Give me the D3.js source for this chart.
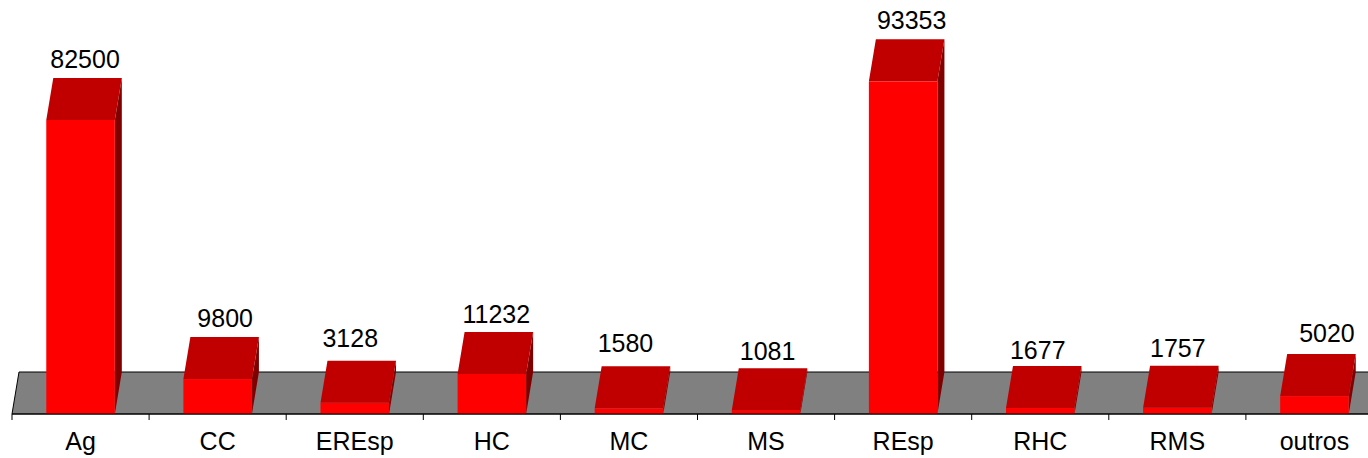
<!DOCTYPE html>
<html>
<head>
<meta charset="utf-8">
<script src="https://cdn.jsdelivr.net/npm/d3@7"></script>
<style>
  html, body { margin: 0; padding: 0; background: #fff; overflow: hidden; }
  svg { display: block; font-family: "Liberation Sans", Arial, sans-serif; }
</style>
</head>
<body>
<svg id="chart" width="1368" height="458"></svg>
<script>
const categories = ["Ag", "CC", "EREsp", "HC", "MC", "MS", "REsp", "RHC", "RMS", "outros"];
const values = [82500, 9800, 3128, 11232, 1580, 1081, 93353, 1677, 1757, 5020];

const W = 1368, H = 458;
const baseY = 414;
const depth = { dx: 7, dy: -42 };

// value labels in the original are not placed quite evenly; small nudges (px)
const labelDx = [1, 4, -8, 1, -7, -2, 5, -6, -3, 9];
const labelGap = [10, 10, 14, 9, 14, 8, 10, 7, 9, 12];

const COL_FRONT = "#ff0000";
const COL_TOP = "#c00000";
const COL_SIDE = "#800000";
const COL_FLOOR = "#808080";

const svg = d3.select("#chart");

const x = d3.scaleBand()
  .domain(categories)
  .range([12, 12 + 1371])
  .paddingInner(0.5)
  .paddingOuter(0.25);

// 82500 -> 294px tall
const y = d3.scaleLinear()
  .domain([0, 100000])
  .range([baseY, baseY - 294 * 100000 / 82500]);

const poly = (pts) => pts.map((p) => p.join(",")).join(" ");

// floor
const x0 = x.range()[0], x1 = x.range()[1];
svg.append("polygon")
  .attr("points", poly([
    [x0, baseY], [x1, baseY],
    [x1 + depth.dx, baseY + depth.dy], [x0 + depth.dx, baseY + depth.dy]
  ]))
  .attr("fill", COL_FLOOR)
  .attr("stroke", "#000")
  .attr("stroke-width", 1);

// bars
const bars = svg.append("g").selectAll("g.bar")
  .data(categories.map((c, i) => ({ c, v: values[i], i })))
  .join("g")
  .attr("class", "bar");

bars.each(function (d) {
  const g = d3.select(this);
  const l = x(d.c), r = l + x.bandwidth();
  const t = y(d.v);
  g.append("polygon")
    .attr("points", poly([
      [r, baseY], [r, t], [r + depth.dx, t + depth.dy], [r + depth.dx, baseY + depth.dy]
    ]))
    .attr("fill", COL_SIDE);
  g.append("rect")
    .attr("x", l).attr("y", t)
    .attr("width", x.bandwidth()).attr("height", baseY - t)
    .attr("fill", COL_FRONT);
  g.append("polygon")
    .attr("points", poly([
      [l, t], [r, t], [r + depth.dx, t + depth.dy], [l + depth.dx, t + depth.dy]
    ]))
    .attr("fill", COL_TOP);
  g.append("text")
    .attr("x", (l + r) / 2 + depth.dx / 2 + labelDx[d.i])
    .attr("y", t + depth.dy - labelGap[d.i])
    .attr("text-anchor", "middle")
    .attr("font-size", 25)
    .attr("fill", "#000")
    .text(d.v);
});

// axis
const gx = svg.append("g").attr("transform", `translate(0,${baseY})`);
gx.append("line")
  .attr("x1", x0).attr("x2", x1)
  .attr("stroke", "#000");
gx.selectAll("line.tick")
  .data(d3.range(categories.length + 1))
  .join("line")
  .attr("class", "tick")
  .attr("x1", (i) => x0 + i * x.step())
  .attr("x2", (i) => x0 + i * x.step())
  .attr("y1", 0).attr("y2", 6)
  .attr("stroke", "#000");
gx.selectAll("text.lbl")
  .data(categories)
  .join("text")
  .attr("class", "lbl")
  .attr("x", (c) => x(c) + x.bandwidth() / 2)
  .attr("y", 36)
  .attr("text-anchor", "middle")
  .attr("font-size", 25)
  .attr("fill", "#000")
  .text((c) => c);
</script>
</body>
</html>
